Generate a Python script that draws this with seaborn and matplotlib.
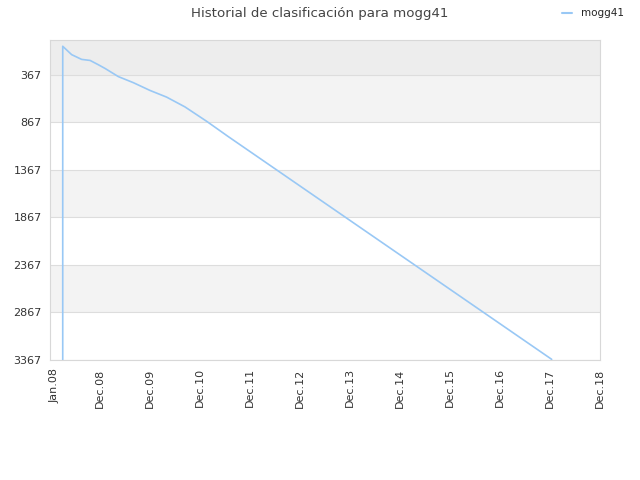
import matplotlib
matplotlib.use("Agg")
import matplotlib.pyplot as plt
import seaborn as sns
import pandas as pd

# ---- data ----
dates = ["2008-03-03", "2008-03-03", "2008-05-07", "2008-07-19", "2008-09-19",
         "2008-11-19", "2009-01-07", "2009-04-13", "2009-08-01", "2009-12-01",
         "2010-04-01", "2010-08-13", "2011-01-19", "2011-06-25", "2017-12-13"]
ranks = [3367, 66, 154, 204, 215, 261, 300, 385, 449, 531, 601, 704, 856, 1016, 3360]
player = "mogg41"
title = "Historial de clasificación para mogg41"
ytick_values = [367, 867, 1367, 1867, 2367, 2867, 3367]
xtick_dates = ["2008-01-01", "2008-12-01", "2009-12-01", "2010-12-01", "2011-12-01",
               "2012-12-01", "2013-12-01", "2014-12-01", "2015-12-01", "2016-12-01",
               "2017-12-01", "2018-12-01"]
xtick_labels = ["Jan.08", "Dec.08", "Dec.09", "Dec.10", "Dec.11", "Dec.12",
                "Dec.13", "Dec.14", "Dec.15", "Dec.16", "Dec.17", "Dec.18"]

df = pd.DataFrame({"date": pd.to_datetime(dates), "rank": ranks, "player": player})

sns.set_style("white")
plt.rcParams["font.family"] = ["DejaVu Sans"]

fig = plt.figure(figsize=(6.4, 4.8), dpi=100)
ax = fig.add_axes([50/640, 120/480, 550/640, 320/480])

# background bands
ax.axhspan(0, 367, color="#ededed", zorder=0, lw=0)
for i in range(len(ytick_values) - 1):
    if i % 2 == 0:
        ax.axhspan(ytick_values[i], ytick_values[i + 1], color="#f3f3f3", zorder=0, lw=0)

sns.lineplot(data=df, x="date", y="rank", hue="player", palette=["#99c8f5"],
             linewidth=1.2, ax=ax, sort=False, estimator=None, legend=False)

ax.set_ylim(3367, 0)
ax.set_xlim(pd.Timestamp("2007-12-01"), pd.Timestamp("2018-12-01"))
ax.set_yticks(ytick_values)
ax.set_yticklabels([str(v) for v in ytick_values], fontsize=8, color="#333333")
ax.set_xticks(pd.to_datetime(xtick_dates))
ax.set_xticklabels(xtick_labels, rotation=90, fontsize=8, color="#333333")
ax.tick_params(axis="both", length=0, pad=6)
ax.grid(axis="y", color="#dddddd", linewidth=0.8)
ax.set_axisbelow(True)
ax.set_xlabel("")
ax.set_ylabel("")
for s in ax.spines.values():
    s.set_color("#d8d8d8")
    s.set_linewidth(0.8)

fig.suptitle(title, x=0.5, y=0.985, fontsize=9.6, color="#444444")
handle = plt.Line2D([], [], color="#99c8f5", linewidth=1.5)
fig.legend([handle], [player], loc="upper right", bbox_to_anchor=(628/640, 1 - 4/480),
           frameon=False, fontsize=7.5, handlelength=1.0, handletextpad=0.8,
           borderaxespad=0)

fig.savefig("out.png", dpi=100)
